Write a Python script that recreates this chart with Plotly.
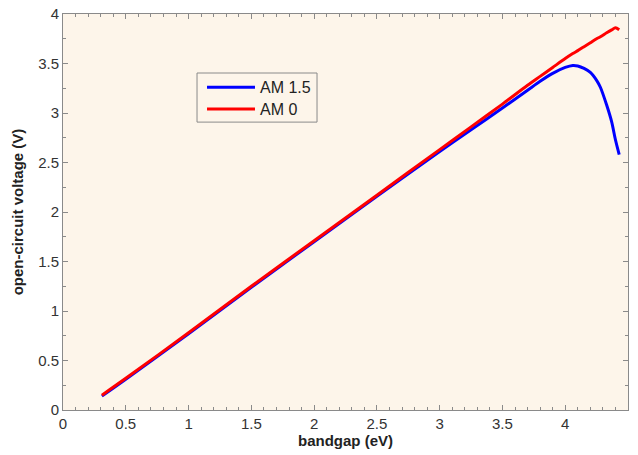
import plotly.graph_objects as go

bandgap = [0.31, 0.5, 1.0, 1.5, 2.0, 2.5, 3.0, 3.25, 3.5, 3.7, 3.8, 3.9, 4.0, 4.06, 4.1, 4.15, 4.2, 4.25, 4.28, 4.33, 4.37, 4.40, 4.43]
voc_am0 = [0.15, 0.32, 0.78, 1.25, 1.71, 2.17, 2.63, 2.86, 3.09, 3.28, 3.37, 3.46, 3.55, 3.60, 3.63, 3.67, 3.71, 3.75, 3.77, 3.81, 3.84, 3.86, 3.84]
voc_am15 = [0.14, 0.31, 0.77, 1.24, 1.70, 2.16, 2.61, 2.83, 3.05, 3.23, 3.32, 3.40, 3.46, 3.48, 3.475, 3.45, 3.41, 3.33, 3.26, 3.08, 2.91, 2.73, 2.58]
series_names = ["AM 1.5", "AM 0"]
series_colors = ["#0000ff", "#ff0000"]

FONT = "Liberation Sans, Arial"
GRAY = "#8a8a8a"

fig = go.Figure()
for name, ys, col in zip(series_names, [voc_am15, voc_am0], series_colors):
    fig.add_trace(go.Scatter(x=bandgap, y=ys, mode="lines", name=name, showlegend=False,
                             line=dict(color=col, width=3, shape="spline", smoothing=0.8)))

axis_common = dict(
    showgrid=False, zeroline=False, showline=True, linecolor=GRAY, linewidth=1,
    mirror="allticks", ticks="inside", ticklen=5, tickcolor=GRAY, automargin=False,
    tickfont=dict(family=FONT, size=15, color="#333333"),
)

fig.update_xaxes(range=[0, 4.5], dtick=0.5, tick0=0,
                 minor=dict(dtick=0.1, ticks="inside", ticklen=3, tickcolor=GRAY),
                 title=dict(text="<b>bandgap (eV)</b>", font=dict(family=FONT, size=15, color="#222222"), standoff=4),
                 **axis_common)
fig.update_yaxes(range=[0, 4], dtick=0.5, tick0=0,
                 minor=dict(dtick=0.25, ticks="inside", ticklen=3, tickcolor=GRAY),
                 title=dict(text="<b>open-circuit voltage (V)</b>", font=dict(family=FONT, size=15, color="#222222"), standoff=10),
                 **axis_common)

# manual legend (paper coordinates)
fig.add_shape(type="rect", xref="paper", yref="paper", x0=0.2372, x1=0.4496, y0=0.727, y1=0.851,
              line=dict(color=GRAY, width=1), fillcolor="#fdf5ea", layer="above")
legend_y = [0.815, 0.760]
for name, col, ly in zip(series_names, series_colors, legend_y):
    fig.add_shape(type="line", xref="paper", yref="paper", x0=0.2549, x1=0.3398, y0=ly, y1=ly,
                  line=dict(color=col, width=3), layer="above")
    fig.add_annotation(xref="paper", yref="paper", x=0.3455, y=ly, text=name, showarrow=False,
                       xanchor="left", yanchor="middle",
                       font=dict(family=FONT, size=16, color="#222222"))

fig.update_layout(
    width=638, height=455,
    margin=dict(l=63, r=10, t=14, b=45),
    paper_bgcolor="white", plot_bgcolor="#fdf5ea",
    showlegend=False,
)

fig.write_html("out.html")
